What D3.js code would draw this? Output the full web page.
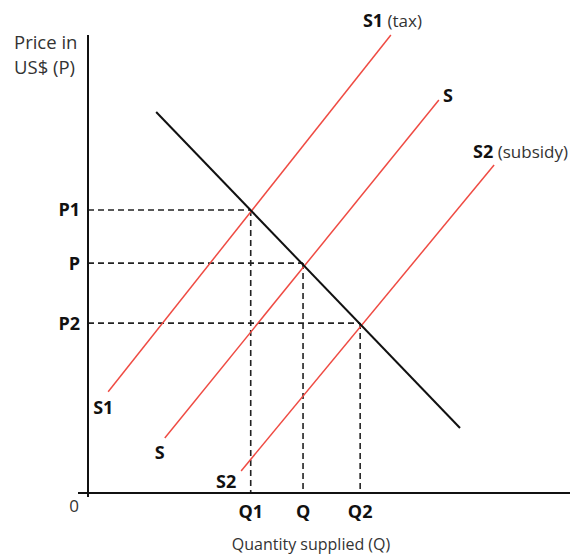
<!DOCTYPE html>
<html>
<head>
<meta charset="utf-8">
<script src="https://cdn.jsdelivr.net/npm/d3@7"></script>
<style>
  body { margin: 0; background: #fff; }
  svg { display: block; font-family: "Open Sans", "Noto Sans", sans-serif; }
  .lbl { font-weight: 700; font-size: 18px; fill: #111; }
  .reg { font-weight: 400; font-size: 17px; fill: #333; }
  .title { font-weight: 400; font-size: 16px; fill: #333; }
  .ytitle { font-weight: 400; font-size: 18.5px; fill: #333; }
</style>
</head>
<body>
<svg width="576" height="556"></svg>
<script>
// market values (arbitrary units)
const priceLevels = [
  { name: "P1", value: 6.18 },
  { name: "P", value: 5.02 },
  { name: "P2", value: 3.71 }
];
const quantityLevels = [
  { name: "Q1", value: 3.39 },
  { name: "Q", value: 4.48 },
  { name: "Q2", value: 5.67 }
];
const demand = [[1.42, 8.32], [7.75, 1.42]];
const supplyTax = [[0.42, 2.21], [6.31, 10.0]];
const supply = [[1.60, 1.20], [7.31, 8.58]];
const supplySubsidy = [[3.19, 0.48], [8.46, 7.16]];

const svg = d3.select("svg");

const x = d3.scaleLinear().domain([0, 10]).range([88, 568]);
const y = d3.scaleLinear().domain([0, 10]).range([493, 35]);

const line = d3.line().x(d => x(d[0])).y(d => y(d[1]));

// dashed guides
priceLevels.forEach((p, i) => {
  const q = quantityLevels[i];
  svg.append("line")
    .attr("x1", x(0)).attr("x2", x(q.value))
    .attr("y1", y(p.value)).attr("y2", y(p.value))
    .attr("stroke", "#222").attr("stroke-width", 1.6)
    .attr("stroke-dasharray", "6 4");
  svg.append("line")
    .attr("x1", x(q.value)).attr("x2", x(q.value))
    .attr("y1", y(p.value)).attr("y2", y(0))
    .attr("stroke", "#222").attr("stroke-width", 1.6)
    .attr("stroke-dasharray", "6 4");
});

// supply curves
[supplyTax, supply, supplySubsidy].forEach(s => {
  svg.append("path")
    .datum(s)
    .attr("fill", "none")
    .attr("stroke", "#ef4b43")
    .attr("stroke-width", 1.5)
    .attr("d", line);
});

// demand
svg.append("path")
  .datum(demand)
  .attr("fill", "none")
  .attr("stroke", "#111")
  .attr("stroke-width", 2)
  .attr("d", line);

// axes
svg.append("line")
  .attr("x1", x(0)).attr("x2", x(0))
  .attr("y1", y(10)).attr("y2", y(0) + 4)
  .attr("stroke", "#111").attr("stroke-width", 2);
svg.append("line")
  .attr("x1", x(0) - 10).attr("x2", 570)
  .attr("y1", y(0)).attr("y2", y(0))
  .attr("stroke", "#111").attr("stroke-width", 2);

// tick labels
svg.selectAll(".plab")
  .data(priceLevels)
  .enter().append("text")
  .attr("class", "lbl")
  .attr("x", x(0) - 8)
  .attr("y", d => y(d.value))
  .attr("dy", "0.36em")
  .attr("text-anchor", "end")
  .text(d => d.name);

svg.selectAll(".qlab")
  .data(quantityLevels)
  .enter().append("text")
  .attr("class", "lbl")
  .attr("x", d => x(d.value))
  .attr("y", y(0) + 25)
  .attr("text-anchor", "middle")
  .text(d => d.name);

svg.append("text").attr("class", "reg")
  .attr("x", 74).attr("y", y(0) + 19)
  .attr("text-anchor", "middle")
  .text("0");

// axis titles
svg.append("text").attr("class", "ytitle")
  .attr("x", 14).attr("y", 49).text("Price in");
svg.append("text").attr("class", "ytitle")
  .attr("x", 14).attr("y", 74).text("US$ (P)");
svg.append("text").attr("class", "title")
  .attr("x", 311).attr("y", 550)
  .attr("text-anchor", "middle")
  .text("Quantity supplied (Q)");

// curve labels
function curveLabel(px, py, bold, rest) {
  const t = svg.append("text").attr("x", px).attr("y", py);
  t.append("tspan").attr("class", "lbl").text(bold);
  if (rest) t.append("tspan").attr("class", "reg").text(" " + rest);
}
curveLabel(x(supplyTax[1][0]) - 28, y(supplyTax[1][1]) - 8, "S1", "(tax)");
curveLabel(x(supply[1][0]) + 4, y(supply[1][1]) + 2, "S");
curveLabel(x(supplySubsidy[1][0]) - 21, y(supplySubsidy[1][1]) - 7, "S2", "(subsidy)");
curveLabel(x(supplyTax[0][0]) - 15, y(supplyTax[0][1]) + 22, "S1");
curveLabel(x(supply[0][0]) - 10, y(supply[0][1]) + 21, "S");
curveLabel(x(supplySubsidy[0][0]) - 25, y(supplySubsidy[0][1]) + 17, "S2");
</script>
</body>
</html>
